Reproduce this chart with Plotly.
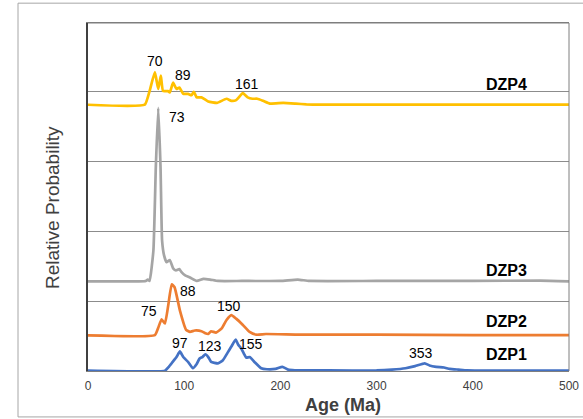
import plotly.graph_objects as go

# ---- data (ages in Ma, relative probability) ----
dzp1_age = [0, 80, 84, 88, 92, 95.5, 99, 104, 109, 113, 116, 119, 122, 125, 128, 135, 140, 145, 149, 153.5,
            156, 159, 162, 164.6, 168, 173, 180, 186, 195, 202, 208, 215, 250, 300, 316, 330, 340, 350, 355,
            362, 370, 376, 385, 394, 420, 500]
dzp1_val = [0.005, 0.005, 0.06, 0.13, 0.2, 0.28, 0.2, 0.13, 0.04, 0.1, 0.18, 0.2, 0.24, 0.2, 0.13, 0.11, 0.15, 0.26, 0.35, 0.45,
            0.38, 0.33, 0.25, 0.19, 0.2, 0.13, 0.04, 0.025, 0.03, 0.06, 0.02, 0.01, 0.008, 0.008, 0.02, 0.04, 0.07, 0.11, 0.08,
            0.06, 0.05, 0.03, 0.02, 0.01, 0.006, 0.005]

dzp2_age = [0, 69.5, 73, 76.5, 80, 83.5, 87, 90, 95.5, 102, 106, 111, 118, 122, 125, 128, 133, 139, 144, 149,
            154, 161, 168, 175, 185, 220, 300, 400, 500]
dzp2_val = [0.51, 0.515, 0.62, 0.74, 0.68, 0.95, 1.24, 1.2, 0.87, 0.59, 0.56, 0.58, 0.57, 0.54, 0.53, 0.57, 0.55, 0.61, 0.73, 0.8,
            0.75, 0.66, 0.56, 0.52, 0.53, 0.52, 0.52, 0.515, 0.515]

dzp3_age = [0, 60, 62, 64, 68, 70.5, 73, 75.4, 77, 79, 81.6, 85, 88.5, 91.5, 95, 97, 101, 106, 113, 120,
            127, 135, 160, 200, 218, 230, 300, 400, 470, 500]
dzp3_val = [1.285, 1.29, 1.31, 1.29, 1.73, 2.92, 3.77, 2.92, 1.87, 1.66, 1.56, 1.59, 1.47, 1.44, 1.46, 1.42, 1.37, 1.34, 1.29, 1.32,
            1.31, 1.29, 1.29, 1.29, 1.31, 1.29, 1.29, 1.29, 1.295, 1.285]

dzp4_age = [0, 59, 64, 69.5, 73, 75.7, 78, 83, 85, 88.5, 92, 95, 99, 104, 107.5, 110, 113, 118, 125, 134,
            144, 149, 154, 161, 166, 171, 176, 182, 189, 203, 216, 227, 240, 300, 400, 500]
dzp4_val = [3.814, 3.815, 4.01, 4.28, 4.04, 4.23, 4.01, 4.01, 3.99, 4.13, 4.04, 4.06, 3.97, 3.97, 3.95, 4.0, 3.92, 3.92, 3.86, 3.84,
            3.9, 3.87, 3.88, 3.98, 3.92, 3.9, 3.9, 3.87, 3.83, 3.84, 3.83, 3.82, 3.815, 3.815, 3.815, 3.815]

peak_text = ["70", "89", "161", "73", "88", "75", "150", "97", "123", "155", "353"]
peak_x = [69.5, 98.5, 165, 92.3, 103.7, 63.3, 147, 95.4, 126.5, 169, 346.5]
peak_y = [4.44, 4.24, 4.11, 3.64, 1.14, 0.86, 0.93, 0.40, 0.36, 0.39, 0.26]

sample_names = ["DZP4", "DZP3", "DZP2", "DZP1"]
sample_label_y = [4.11, 1.44, 0.71, 0.24]
x_ticks = [0, 100, 200, 300, 400, 500]

colors = {"DZP1": "#4472C4", "DZP2": "#ED7D31", "DZP3": "#A5A5A5", "DZP4": "#FFC000"}
FONT = "Liberation Sans, Arial"

fig = go.Figure()
for name, ax, ay in [("DZP1", dzp1_age, dzp1_val), ("DZP2", dzp2_age, dzp2_val),
                     ("DZP3", dzp3_age, dzp3_val), ("DZP4", dzp4_age, dzp4_val)]:
    fig.add_trace(go.Scatter(x=ax, y=ay, mode="lines", name=name,
                             line=dict(color=colors[name], width=2.7, shape="spline", smoothing=0.4),
                             showlegend=False, hoverinfo="skip"))

for t, x, y in zip(peak_text, peak_x, peak_y):
    fig.add_annotation(x=x, y=y, text=t, showarrow=False,
                       font=dict(family=FONT, size=14, color="#000000"))

for t, y in zip(sample_names, sample_label_y):
    fig.add_annotation(x=435, y=y, text="<b>" + t + "</b>", showarrow=False,
                       font=dict(family=FONT, size=16, color="#000000"))

# axis titles (placed as in the reference)
fig.add_annotation(xref="paper", yref="paper", x=0.53, y=-0.098, xanchor="center", yanchor="middle",
                   text="<b>Age (Ma)</b>", showarrow=False,
                   font=dict(family=FONT, size=18, color="#404040"))
fig.add_annotation(xref="paper", yref="paper", x=-0.075, y=0.471, xanchor="center", yanchor="middle",
                   text="Relative Probability", textangle=-90, showarrow=False,
                   font=dict(family=FONT, size=19, color="#404040"))

# outer frame
fig.add_shape(type="rect", xref="paper", yref="paper", x0=-0.1455, x1=1.1, y0=-0.132, y1=1.057,
              line=dict(color="#A6A6A6", width=1), layer="below")

fig.update_layout(
    width=583, height=419,
    margin=dict(l=88, r=14, t=23, b=48, autoexpand=False),
    paper_bgcolor="white", plot_bgcolor="white",
    font=dict(family=FONT, color="#000000"),
    xaxis=dict(range=[0, 500], tickvals=x_ticks, showgrid=False, zeroline=False, automargin=False,
               showline=True, linecolor="#7F7F7F", linewidth=1, mirror=True,
               ticks="", ticklabelstandoff=4, tickfont=dict(size=12, color="#404040")),
    yaxis=dict(range=[0, 4.985], dtick=1, showgrid=True, gridcolor="#8C8C8C", gridwidth=1, automargin=False,
               zeroline=False, showline=True, linecolor="#404040", linewidth=1.5, mirror=False,
               showticklabels=False, ticks=""),
)
# right/top frame of plot area
fig.add_shape(type="line", xref="paper", yref="paper", x0=0, x1=1, y0=1, y1=1,
              line=dict(color="#7F7F7F", width=1))
fig.add_shape(type="line", xref="paper", yref="paper", x0=1, x1=1, y0=0, y1=1,
              line=dict(color="#7F7F7F", width=1))

fig.write_html("out.html")
